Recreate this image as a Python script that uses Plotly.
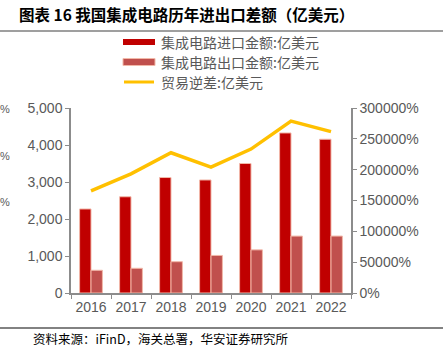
import plotly.graph_objects as go

years = ["2016", "2017", "2018", "2019", "2020", "2021", "2022"]
imports = [2271, 2601, 3121, 3055, 3500, 4326, 4156]
exports = [614, 668, 846, 1015, 1166, 1538, 1539]
deficit = [1657, 1932, 2274, 2040, 2334, 2788, 2617]

name_imp = "集成电路进口金额:亿美元"
name_exp = "集成电路出口金额:亿美元"
name_def = "贸易逆差:亿美元"
title_text = "<b>图表 16 我国集成电路历年进出口差额（亿美元）</b>"
source_text = "资料来源：iFinD，海关总署，华安证券研究所"

W, H = 446, 354
L, R, T, B = 71, 351, 108, 293


def px(x):
    return (x - L) / (R - L)


def py(y):
    return (B - y) / (B - T)


CJK = "Noto Sans CJK SC"
LAT = "Liberation Sans, Arial"

fig = go.Figure()
fig.add_trace(go.Bar(x=years, y=imports, name=name_imp,
                     marker=dict(color="#C00000", line=dict(color="#F2B8A8", width=1)),
                     showlegend=False))
fig.add_trace(go.Bar(x=years, y=exports, name=name_exp,
                     marker=dict(color="#C0504D", line=dict(color="#F2B8A8", width=1)),
                     showlegend=False))
fig.add_trace(go.Scatter(x=years, y=deficit, name=name_def, yaxis="y2", mode="lines",
                         line=dict(color="#FFC000", width=3.5), showlegend=False))

axis_col = "#8C8C8C"
tick_font = dict(family=LAT, size=14, color="#595959")

fig.update_layout(
    width=W, height=H,
    margin=dict(l=L, r=W - R, t=T, b=H - B),
    paper_bgcolor="white", plot_bgcolor="white",
    barmode="group", bargap=0.43, bargroupgap=0,
    xaxis=dict(showline=True, linecolor=axis_col, linewidth=1.5, ticks="outside",
               tickson="boundaries", ticklen=4, tickcolor=axis_col, tickfont=tick_font,
               tickangle=0, showgrid=False),
    yaxis=dict(range=[0, 5000], dtick=1000, tickformat=",d", showline=True,
               linecolor=axis_col, linewidth=1.5, ticks="outside", ticklen=4,
               tickcolor=axis_col, tickfont=tick_font, showgrid=False, zeroline=False),
    yaxis2=dict(range=[0, 3000], dtick=500, tickformat=".0%", overlaying="y",
                side="right", showline=True, linecolor=axis_col, linewidth=1.5,
                ticks="outside", ticklen=4, tickcolor=axis_col, tickfont=tick_font,
                showgrid=False, zeroline=False),
)

shapes = [
    dict(type="line", xref="paper", yref="paper", x0=px(0), x1=px(443), y0=py(31), y1=py(31),
         line=dict(color="#7F7F7F", width=1.5)),
    dict(type="line", xref="paper", yref="paper", x0=px(0), x1=px(443), y0=py(328), y1=py(328),
         line=dict(color="#595959", width=1.5)),
    dict(type="rect", xref="paper", yref="paper", x0=px(123), x1=px(155), y0=py(45), y1=py(39),
         fillcolor="#C00000", line=dict(width=0)),
    dict(type="rect", xref="paper", yref="paper", x0=px(123), x1=px(155), y0=py(65.5), y1=py(58.5),
         fillcolor="#C0504D", line=dict(color="#F2B8A8", width=1)),
    dict(type="line", xref="paper", yref="paper", x0=px(124), x1=px(154), y0=py(82), y1=py(82),
         line=dict(color="#FFC000", width=3)),
]

ann = [
    dict(text=title_text, x=px(17), y=py(14), xanchor="left", yanchor="middle",
         font=dict(family=CJK, size=15.5, color="#000000")),
    dict(text=name_imp, x=px(159), y=py(42), xanchor="left", yanchor="middle",
         font=dict(family=CJK, size=14, color="#595959")),
    dict(text=name_exp, x=px(159), y=py(62), xanchor="left", yanchor="middle",
         font=dict(family=CJK, size=14, color="#595959")),
    dict(text=name_def, x=px(159), y=py(82), xanchor="left", yanchor="middle",
         font=dict(family=CJK, size=14, color="#595959")),
    dict(text=source_text, x=px(31), y=py(338), xanchor="left", yanchor="middle",
         font=dict(family=CJK, size=12.5, color="#000000")),
]
for yy in [109, 156, 202]:
    ann.append(dict(text="%", x=px(-2), y=py(yy), xanchor="left", yanchor="middle",
                    font=dict(family=LAT, size=11, color="#595959")))
for a in ann:
    a.update(xref="paper", yref="paper", showarrow=False)

fig.update_layout(shapes=shapes, annotations=ann)
fig.write_html("out.html")
